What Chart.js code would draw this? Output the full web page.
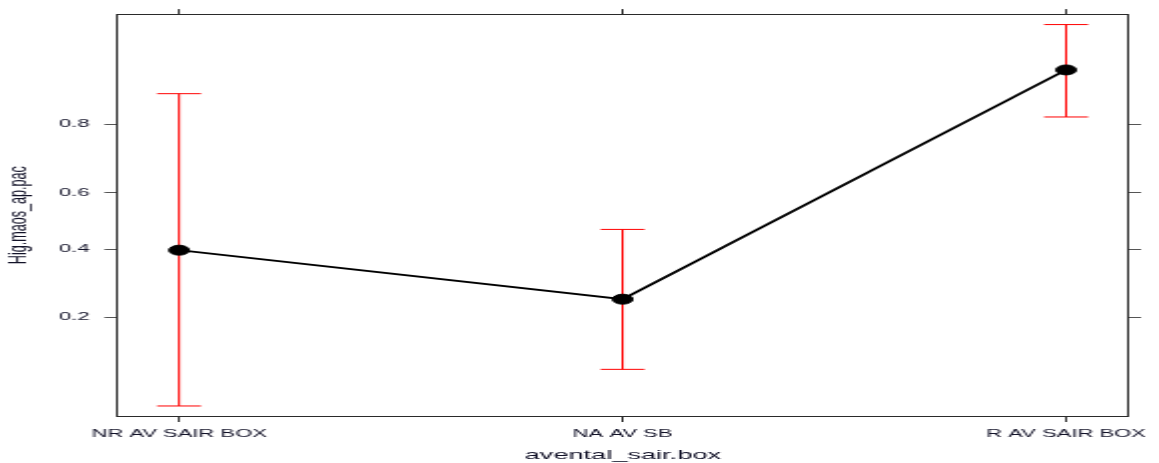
<!DOCTYPE html>
<html>
<head>
<meta charset="utf-8">
<script src="https://cdn.jsdelivr.net/npm/chart.js@4.4.1/dist/chart.umd.min.js"></script>
<style>
    html, body { margin: 0; padding: 0; background: #ffffff; }
    #wrap { width: 1159px; height: 463px; }
    /* 畫布以 580 寬繪製，再橫向拉伸到 1159 */
    #effectChart { width: 1159px; height: 463px; }
</style>
</head>
<body>
<div id="wrap">
    <canvas id="effectChart" width="580" height="463" style="width:1159px;height:463px"></canvas>
</div>
<script>
// 各組別的估計機率與信賴區間
const categories = ['NR AV SAIR BOX', 'NA AV SB', 'R AV SAIR BOX'];
const fitValues = [0.396, 0.245, 0.897];
const lowerValues = [0.0655, 0.106, 0.816];
const upperValues = [0.861, 0.469, 0.9435];
const tickValues = [0.2, 0.4, 0.6, 0.8];
const yRange = [0.057, 0.951];

// logit 尺度轉換
const logit = p => Math.log(p / (1 - p));

const FONT = "'Liberation Sans', Arial, sans-serif";
const TEXT_COLOR = '#121228';

// 誤差線：在資料點之前畫紅色區間
const errorBars = {
    id: 'errorBars',
    beforeDatasetsDraw(chart) {
        const { ctx, scales } = chart;
        const x = scales.x, y = scales.y;
        ctx.save();
        ctx.strokeStyle = '#ff0000';
        ctx.lineWidth = 1;
        categories.forEach((c, i) => {
            const px = x.getPixelForValue(i + 1);
            const top = y.getPixelForValue(logit(upperValues[i]));
            const bot = y.getPixelForValue(logit(lowerValues[i]));
            ctx.beginPath();
            ctx.moveTo(px, top);
            ctx.lineTo(px, bot);
            ctx.moveTo(px - 11, top);
            ctx.lineTo(px + 11, top);
            ctx.moveTo(px - 11, bot);
            ctx.lineTo(px + 11, bot);
            ctx.stroke();
        });
        ctx.restore();
    }
};

const xTicks = scale => {
    scale.ticks = categories.map((c, i) => ({ value: i + 1 }));
};
const yTicks = scale => {
    scale.ticks = tickValues.map(p => ({ value: logit(p) }));
};

const frame = { display: true, color: '#2a2a2a', width: 1 };

new Chart(document.getElementById('effectChart'), {
    type: 'line',
    data: {
        datasets: [{
            data: fitValues.map((v, i) => ({ x: i + 1, y: logit(v) })),
            borderColor: '#000000',
            borderWidth: 1.9,
            pointRadius: 5,
            pointBorderWidth: 1,
            pointBackgroundColor: '#000000',
            pointBorderColor: '#000000',
            tension: 0,
            clip: false
        }]
    },
    options: {
        responsive: false,
        animation: false,
        layout: { padding: 0 },
        plugins: {
            legend: { display: false },
            tooltip: { enabled: false }
        },
        scales: {
            x: {
                type: 'linear',
                position: 'bottom',
                min: 0.86,
                max: 3.141,
                afterBuildTicks: xTicks,
                afterFit: s => { s.height = 46.7; },
                border: frame,
                grid: { drawOnChartArea: false, tickLength: 5.7, color: '#333333' },
                ticks: {
                    padding: 5.6,
                    autoSkip: false,
                    maxRotation: 0,
                    color: TEXT_COLOR,
                    font: { family: FONT, size: 11 },
                    callback: (v, i) => categories[i]
                },
                title: {
                    display: true,
                    text: 'avental_sair.box',
                    color: TEXT_COLOR,
                    padding: { top: 0, bottom: 0 },
                    font: { family: FONT, size: 13.6 }
                }
            },
            xTop: {
                type: 'linear',
                position: 'top',
                min: 0.86,
                max: 3.141,
                afterBuildTicks: xTicks,
                afterFit: s => { s.height = 14; },
                border: frame,
                grid: { drawOnChartArea: false, tickLength: 5, color: '#333333' },
                ticks: { padding: 0, autoSkip: false, maxRotation: 0, callback: () => '' }
            },
            y: {
                type: 'linear',
                position: 'left',
                min: logit(yRange[0]),
                max: logit(yRange[1]),
                afterBuildTicks: yTicks,
                afterFit: s => { s.width = 58.55; },
                border: frame,
                grid: { drawOnChartArea: false, tickLength: 6.3, color: '#555555' },
                ticks: {
                    padding: 7.5,
                    color: TEXT_COLOR,
                    font: { family: FONT, size: 11 },
                    callback: (v, i) => tickValues[i].toFixed(1)
                },
                title: {
                    display: true,
                    text: 'Hig.maos_ap.pac',
                    color: TEXT_COLOR,
                    padding: { top: 2.3, bottom: 0 },
                    font: { family: FONT, size: 12.6 }
                }
            },
            yRight: {
                type: 'linear',
                position: 'right',
                min: logit(yRange[0]),
                max: logit(yRange[1]),
                afterBuildTicks: yTicks,
                afterFit: s => { s.width = 13.6; },
                border: frame,
                grid: { drawOnChartArea: false, tickLength: 6.2, color: '#555555' },
                ticks: { padding: 0, callback: () => '' }
            }
        }
    },
    plugins: [errorBars]
});
</script>
</body>
</html>
